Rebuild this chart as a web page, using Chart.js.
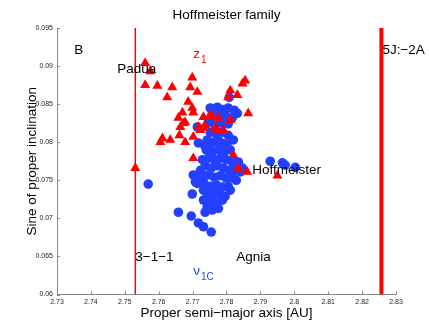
<!DOCTYPE html>
<html><head><meta charset="utf-8">
<script src="https://cdn.jsdelivr.net/npm/chart.js@4.4.0/dist/chart.umd.min.js"></script>
<style>html,body{margin:0;padding:0;background:#fff}canvas{display:block}</style>
</head><body>
<canvas id="c" width="429" height="332"></canvas>
<script>
const chartTitle = "Hoffmeister family";
const xTicks = [2.73, 2.74, 2.75, 2.76, 2.77, 2.78, 2.79, 2.8, 2.81, 2.82, 2.83];
const xTickLabels = ["2.73","2.74","2.75","2.76","2.77","2.78","2.79","2.8","2.81","2.82","2.83"];
const yTicks = [0.06, 0.065, 0.07, 0.075, 0.08, 0.085, 0.09, 0.095];
const yTickLabels = ["0.06","0.065","0.07","0.075","0.08","0.085","0.09","0.095"];

// Red triangles: proper semi-major axis [AU] and sine of proper inclination
const redA = [2.7560, 2.7575, 2.7560, 2.7596, 2.7640, 2.7625, 2.7699, 2.7693, 2.7714, 2.7687,
  2.7699, 2.7670, 2.7702, 2.7658, 2.7678, 2.7664, 2.7661, 2.7611, 2.7634, 2.7605,
  2.7702, 2.7678, 2.7732, 2.7752, 2.7776, 2.7811, 2.7737, 2.7723, 2.7767, 2.7791,
  2.7717, 2.7811, 2.7832, 2.7805, 2.7855, 2.7847, 2.7864, 2.7531, 2.7702, 2.7820,
  2.7835, 2.7861, 2.7950, 2.7758, 2.7773, 2.7673, 2.7732];
const redSinI = [0.0904, 0.0893, 0.0875, 0.0874, 0.0872, 0.0859, 0.0885, 0.0872, 0.0866, 0.0853,
  0.0845, 0.0839, 0.0839, 0.0832, 0.0826, 0.0820, 0.0809, 0.0805, 0.0803, 0.0800,
  0.0807, 0.0800, 0.0833, 0.0836, 0.0832, 0.0829, 0.0822, 0.0816, 0.0819, 0.0816,
  0.0820, 0.0868, 0.0862, 0.0859, 0.0881, 0.0877, 0.0838, 0.0766, 0.0779, 0.0783,
  0.0766, 0.0761, 0.0756, 0.0833, 0.0816, 0.0825, 0.0819];

// Blue circles
const blueA = [2.7752, 2.7773, 2.7788, 2.7805, 2.7823, 2.7832, 2.7758, 2.7782, 2.7799, 2.7817,
  2.7746, 2.7764, 2.7785, 2.7805, 2.7752, 2.7770, 2.7788, 2.7805, 2.7743, 2.7761,
  2.7779, 2.7796, 2.7740, 2.7758, 2.7776, 2.7794, 2.7811, 2.7746, 2.7764, 2.7782,
  2.7799, 2.7817, 2.7737, 2.7755, 2.7773, 2.7791, 2.7808, 2.7826, 2.7841, 2.7746,
  2.7764, 2.7782, 2.7799, 2.7817, 2.7735, 2.7752, 2.7770, 2.7788, 2.7805, 2.7743,
  2.7761, 2.7779, 2.7796, 2.7752, 2.7770, 2.7788, 2.7723, 2.7729, 2.7735, 2.7835,
  2.7847, 2.7829, 2.7811, 2.7737, 2.7758, 2.7714, 2.7717, 2.7808, 2.7702, 2.7708,
  2.7569, 2.7658, 2.7696, 2.7717, 2.7732, 2.7755, 2.7699, 2.7714, 2.7714, 2.7732,
  2.7929, 2.7965, 2.7973, 2.8003, 2.7743, 2.7761, 2.7749, 2.7802, 2.7820, 2.7767,
  2.7732, 2.7776, 2.7732];
const blueSinI = [0.0845, 0.0846, 0.0843, 0.0845, 0.0842, 0.0838, 0.0838, 0.0837, 0.0834, 0.0832,
  0.0826, 0.0824, 0.0825, 0.0824, 0.0813, 0.0811, 0.0813, 0.0809, 0.0803, 0.0800,
  0.0801, 0.0798, 0.0790, 0.0787, 0.0790, 0.0787, 0.0790, 0.0779, 0.0777, 0.0779,
  0.0777, 0.0774, 0.0769, 0.0766, 0.0769, 0.0766, 0.0763, 0.0763, 0.0761, 0.0757,
  0.0754, 0.0756, 0.0753, 0.0753, 0.0745, 0.0742, 0.0744, 0.0741, 0.0742, 0.0733,
  0.0731, 0.0732, 0.0729, 0.0723, 0.0720, 0.0724, 0.0763, 0.0777, 0.0796, 0.0774,
  0.0766, 0.0750, 0.0737, 0.0708, 0.0711, 0.0820, 0.0799, 0.0859, 0.0757, 0.0748,
  0.0745, 0.0708, 0.0703, 0.0694, 0.0689, 0.0682, 0.0732, 0.0746, 0.0754, 0.0737,
  0.0775, 0.0773, 0.0770, 0.0767, 0.0715, 0.0720, 0.0795, 0.0795, 0.0803, 0.0737,
  0.0753, 0.0713, 0.0724];

// Resonance locations (vertical lines)
const resonanceA = [2.7531, 2.8257];

const labels = [
  {text: "B", x: 2.7351, y: 0.0921},
  {text: "z", sub: "1", x: 2.7702, y: 0.0916, color: "#ff0000"},
  {text: "Padua", x: 2.7478, y: 0.0896},
  {text: "5J:\u22122A", x: 2.8260, y: 0.0921},
  {text: "Hoffmeister", x: 2.7876, y: 0.0763},
  {text: "3\u22121\u22121", x: 2.7531, y: 0.0649},
  {text: "Agnia", x: 2.7829, y: 0.0649},
  {text: "\u03bd", sub: "1C", x: 2.7702, y: 0.0630, color: "#2440ff"}
];

const FONT = "'Liberation Sans', Arial, Helvetica, sans-serif";
Chart.defaults.font.family = FONT;

const zip = (a, b) => a.map((v, i) => ({x: v, y: b[i]}));

const textPlugin = {
  id: 'texts',
  afterDatasetsDraw(chart) {
    const {ctx, chartArea: a, scales: {x, y}} = chart;
    ctx.save();
    ctx.textBaseline = 'middle';
    ctx.textAlign = 'center';
    ctx.fillStyle = '#000';
    ctx.font = '13.5px ' + FONT;
    ctx.fillText(chartTitle, (a.left + a.right) / 2, 15);
    ctx.textAlign = 'left';
    labels.forEach(l => {
      const px = x.getPixelForValue(l.x), py = y.getPixelForValue(l.y);
      ctx.fillStyle = l.color || '#000';
      ctx.font = '13.5px ' + FONT;
      ctx.fillText(l.text, px, py);
      if (l.sub) {
        const w = ctx.measureText(l.text).width;
        ctx.font = '10px ' + FONT;
        ctx.fillText(l.sub, px + w + 1, py + 6);
      }
    });
    ctx.restore();
  },
  afterDraw(chart) {
    const {ctx, chartArea: a, scales: {x, y}} = chart;
    ctx.save();
    ctx.strokeStyle = '#888';
    ctx.lineWidth = 1;
    ctx.beginPath();
    xTicks.forEach(v => {
      const px = Math.round(x.getPixelForValue(v)) + 0.5;
      ctx.moveTo(px, a.bottom); ctx.lineTo(px, a.bottom - 3);
    });
    yTicks.forEach(v => {
      const py = Math.round(y.getPixelForValue(v)) + 0.5;
      ctx.moveTo(a.left, py); ctx.lineTo(a.left + 3, py);
    });
    ctx.stroke();
    ctx.restore();
  }
};

new Chart(document.getElementById('c'), {
  type: 'scatter',
  data: {
    datasets: [
      {
        data: zip(redA, redSinI),
        pointStyle: 'triangle',
        pointRadius: 5.8,
        backgroundColor: '#ff0000',
        borderColor: '#ff0000',
        borderWidth: 0
      },
      {
        data: zip(blueA, blueSinI),
        pointStyle: 'circle',
        pointRadius: 4.8,
        backgroundColor: '#2440ff',
        borderColor: '#2440ff',
        borderWidth: 0
      },
      {
        data: [{x: resonanceA[0], y: yTicks[0]}, {x: resonanceA[0], y: yTicks[yTicks.length - 1]}],
        showLine: true, pointRadius: 0, borderColor: '#ff0000', borderWidth: 1.5
      },
      {
        data: [{x: resonanceA[1], y: yTicks[0]}, {x: resonanceA[1], y: yTicks[yTicks.length - 1]}],
        showLine: true, pointRadius: 0, borderColor: '#ff0000', borderWidth: 4
      }
    ]
  },
  options: {
    responsive: false,
    animation: false,
    devicePixelRatio: 1,
    layout: {padding: {left: 0, right: 33, top: 28, bottom: 0}},
    plugins: {
      legend: {display: false},
      tooltip: {enabled: false},
      title: {display: false}
    },
    scales: {
      x: {
        type: 'linear',
        min: 2.73, max: 2.83,
        afterBuildTicks: s => { s.ticks = xTicks.map(v => ({value: v})); },
        afterFit: s => { s.height = 37.5; },
        ticks: {
          font: {size: 7}, color: '#222', padding: 3, maxRotation: 0, autoSkip: false,
          callback: (v, i) => xTickLabels[i]
        },
        grid: {display: true, drawOnChartArea: false, drawTicks: false},
        border: {display: true, color: '#888', width: 1},
        title: {display: true, text: 'Proper semi\u2212major axis [AU]', color: '#000',
          font: {size: 13.5}, padding: {top: 0, bottom: 11}}
      },
      y: {
        type: 'linear',
        min: 0.06, max: 0.095,
        afterBuildTicks: s => { s.ticks = yTicks.map(v => ({value: v})); },
        afterFit: s => { s.width = 57; },
        ticks: {
          font: {size: 7}, color: '#222', padding: 4, autoSkip: false,
          callback: (v, i) => yTickLabels[i]
        },
        grid: {display: true, drawOnChartArea: false, drawTicks: false},
        border: {display: true, color: '#888', width: 1},
        title: {display: true, text: 'Sine of proper inclination', color: '#000',
          font: {size: 13.5}, padding: {top: 24, bottom: 0}}
      }
    }
  },
  plugins: [textPlugin]
});
</script>
</body></html>
